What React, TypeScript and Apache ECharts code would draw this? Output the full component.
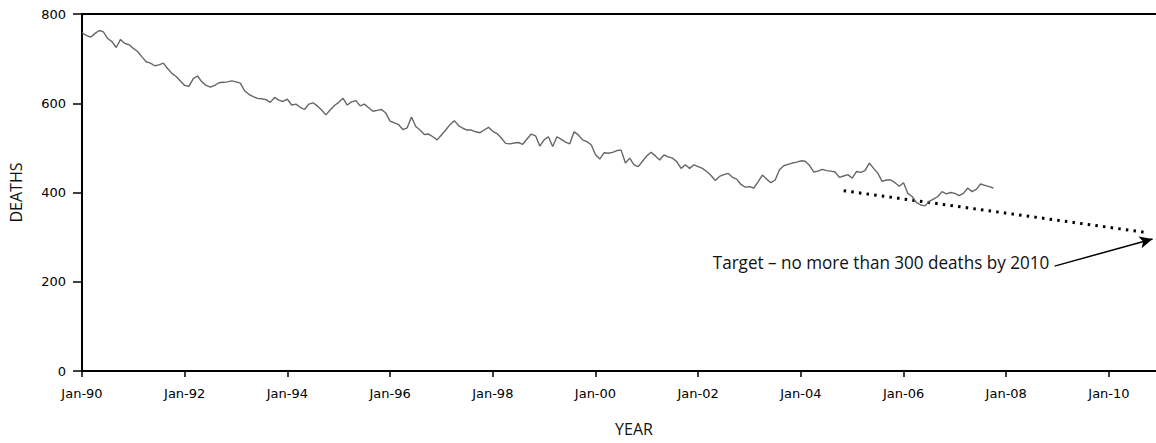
import React, { useEffect, useRef } from "react";
import * as echarts from "echarts";

// Monthly deaths, starting Jan 1990 (index = months since Jan-90)
const DEATHS = [
  758, 752, 748, 756, 763, 760, 745, 738, 725, 743,
  734, 731, 723, 716, 704, 693, 690, 684, 686, 690,
  678, 667, 660, 650, 640, 638, 655, 661, 648, 640,
  636, 640, 646, 647, 648, 650, 648, 645, 628, 620,
  615, 611, 610, 608, 602, 613, 607, 604, 609, 596,
  598, 591, 586, 598, 601, 594, 585, 574, 585, 595,
  602, 611, 596, 603, 606, 594, 598, 590, 582, 584,
  586, 578, 560, 556, 552, 541, 545, 569, 548, 540,
  530, 531, 525, 518, 529, 540, 552, 561, 550, 544,
  540, 540, 536, 534, 540, 546, 537, 532, 522, 510,
  509, 511, 512, 508, 520, 531, 527, 504, 518, 525,
  503, 525, 519, 513, 509, 536, 529, 518, 514, 507,
  485, 475, 489, 488, 490, 494, 495, 466, 477, 462,
  458, 470, 482, 490, 482, 473, 484, 480, 477, 469,
  454, 462, 454, 462, 458, 454, 447, 438, 427, 436,
  440, 443, 434, 430, 418, 412, 413, 410, 424, 439,
  430, 422, 428, 451, 460, 463, 466, 468, 471, 470,
  461, 446, 448, 452, 449, 448, 446, 434, 437, 440,
  432, 447, 445, 449, 466, 454, 443, 425, 428, 428,
  422, 414, 422, 398, 391, 378, 372, 370, 380, 385,
  391, 402, 397, 400, 398, 393, 398, 410, 402, 407,
  419, 416, 413, 410,
];
const START_YEAR = 1990;
const X_MAX_MONTH = 251;
const TICK_MONTHS = [0, 24, 48, 72, 96, 120, 144, 168, 192, 216, 240];
const Y_TICKS = [0, 200, 400, 600, 800];

// Target trend line (month index, deaths)
const TARGET_MONTHS = [178, 249];
const TARGET_VALUES = [404, 310];

// Annotation arrow (month index, deaths)
const ARROW_FROM = [227.3, 235];
const ARROW_TO = [250.2, 296];
const ANNOTATION = "Target \u2013 no more than 300 deaths by 2010";

const monthLabel = (m: number) => {
  const year = START_YEAR + Math.floor(m / 12);
  return "Jan-" + String(year % 100).padStart(2, "0");
};

export default function App() {
  const ref = useRef<HTMLDivElement>(null);
  useEffect(() => {
    if (!ref.current) return;
    const chart = echarts.init(ref.current, undefined, { renderer: "svg" });
    const axisCommon = {
      type: "value" as const,
      min: 0,
      max: X_MAX_MONTH,
    };
    chart.setOption({
      animation: false,
      backgroundColor: "#ffffff",
      grid: { left: 82, right: 0, top: 14, bottom: 72 },
      xAxis: [
        {
          ...axisCommon,
          position: "bottom",
          name: "YEAR",
          nameLocation: "middle",
          nameGap: 50,
          nameTextStyle: {
            fontFamily: "Open Sans",
            fontSize: 16,
            color: "#111",
            padding: [0, 0, 0, 30],
          },
          axisLine: { show: true, onZero: false, lineStyle: { color: "#000", width: 2 } },
          axisTick: {
            show: true,
            customValues: TICK_MONTHS,
            length: 6,
            lineStyle: { color: "#000", width: 1.5 },
          },
          axisLabel: {
            customValues: TICK_MONTHS,
            formatter: (v: number) => monthLabel(v),
            fontFamily: "DejaVu Sans",
            fontSize: 13,
            color: "#000",
            margin: 16,
          },
          splitLine: { show: false },
        },
        {
          ...axisCommon,
          position: "top",
          axisLine: { show: true, onZero: false, lineStyle: { color: "#000", width: 2 } },
          axisTick: { show: false },
          axisLabel: { show: false },
          splitLine: { show: false },
        },
      ],
      yAxis: {
        type: "value",
        min: 0,
        max: 800,
        interval: 200,
        name: "DEATHS",
        nameLocation: "middle",
        nameGap: 58,
        nameRotate: 90,
        nameTextStyle: { fontFamily: "Open Sans", fontSize: 16, color: "#111" },
        axisLine: { show: true, lineStyle: { color: "#000", width: 2 } },
        axisTick: { show: true, length: 9, lineStyle: { color: "#000", width: 1.5 } },
        axisLabel: {
          formatter: (v: number) => (Y_TICKS.includes(v) ? String(v) : ""),
          fontFamily: "DejaVu Sans",
          fontSize: 13,
          color: "#000",
          margin: 16,
        },
        splitLine: { show: false },
      },
      series: [
        {
          name: "Deaths",
          type: "line",
          xAxisIndex: 0,
          data: DEATHS.map((v, i) => [i, v]),
          showSymbol: false,
          symbol: "none",
          lineStyle: { color: "#666666", width: 1.4 },
          z: 3,
          markLine: {
            silent: true,
            symbol: ["none", "arrow"],
            symbolSize: [9, 13],
            label: { show: false },
            lineStyle: { color: "#000", width: 1.5, type: "solid" },
            data: [[{ coord: ARROW_FROM }, { coord: ARROW_TO }]],
          },
        },
        {
          name: "Target",
          type: "line",
          xAxisIndex: 0,
          data: TARGET_MONTHS.map((m, i) => [m, TARGET_VALUES[i]]),
          showSymbol: false,
          symbol: "none",
          lineStyle: { color: "#000", width: 3, type: [2.5, 5.2] },
          z: 2,
        },
      ],
      graphic: [
        {
          type: "text",
          x: 881,
          y: 262,
          scaleX: 0.9,
          style: {
            text: ANNOTATION,
            x: 0,
            y: 0,
            align: "center",
            verticalAlign: "middle",
            font: '19px "Open Sans"',
            fill: "#111",
          },
        },
      ],
    });
    return () => chart.dispose();
  }, []);
  return (
    <div
      ref={ref}
      style={{ position: "fixed", left: 0, top: 0, width: 1156, height: 443, background: "#fff" }}
    />
  );
}
